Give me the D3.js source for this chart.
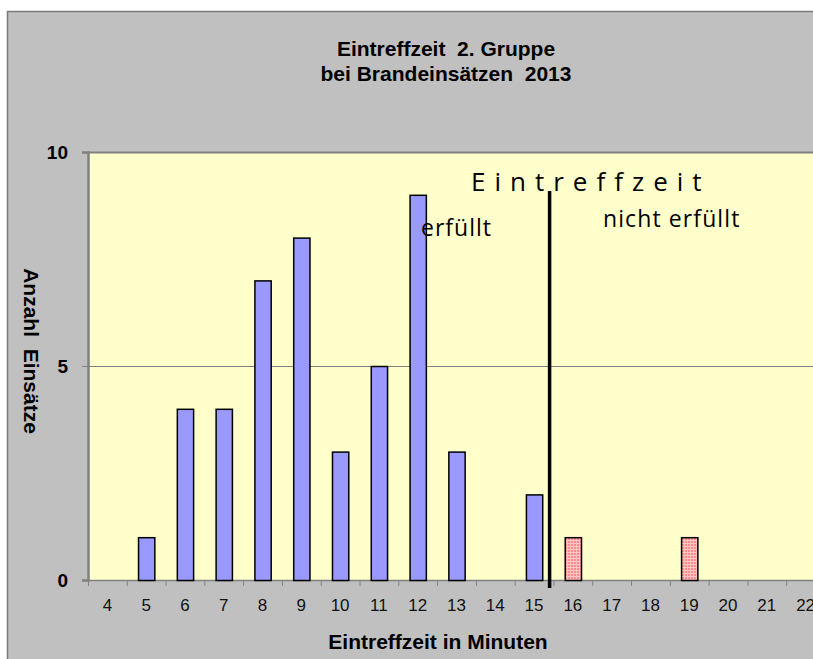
<!DOCTYPE html>
<html>
<head>
<meta charset="utf-8">
<script src="https://cdn.jsdelivr.net/npm/d3@7"></script>
<style>
  body { margin: 0; background: #fff; }
  svg { display: block; }
</style>
</head>
<body>
<script>
// data
var minutes = ["4","5","6","7","8","9","10","11","12","13","14","15","16","17","18","19","20","21","22"];
var counts  = [0, 1, 4, 4, 7, 8, 3, 5, 9, 3, 0, 2, 1, 0, 0, 1, 0, 0, 0];
var missed  = ["16","17","18","19","20","21","22"]; // beyond the limit -> red bars
var yTicks  = [0, 5, 10];
var limitAt = 15.4; // Eintreffzeit limit (between 15 and 16)

var w = 813, h = 659;
var padL = 88, padT = 152, padR = 825, padB = 580;

var svg = d3.select("body").append("svg")
    .attr("width", w)
    .attr("height", h);

// pattern for the red bars
var defs = svg.append("defs");
var pat = defs.append("pattern")
    .attr("id", "redcheck")
    .attr("width", 3).attr("height", 3)
    .attr("patternUnits", "userSpaceOnUse");
pat.append("rect").attr("width", 3).attr("height", 3).attr("fill", "#ff8c8c");
pat.append("rect").attr("width", 3).attr("height", 1).attr("fill", "#ffc8c8");
pat.append("rect").attr("width", 1).attr("height", 3).attr("fill", "#ffc0c0");

// chart background
svg.append("rect")
    .attr("x", 7.5).attr("y", 11.5)
    .attr("width", w + 10).attr("height", h + 10)
    .attr("fill", "#c0c0c0")
    .attr("stroke", "#7a7a7a")
    .attr("stroke-width", 1.5);

// scales
var x = d3.scaleBand()
    .domain(minutes)
    .range([padL, padR])
    .paddingInner(0.58)
    .paddingOuter(0.29);
var xEdge = d3.scaleBand().domain(minutes).range([padL, padR]);
var y = d3.scaleLinear()
    .domain([0, 10])
    .range([padB, padT]);

// plot area
svg.append("rect")
    .attr("x", padL).attr("y", padT)
    .attr("width", padR - padL).attr("height", padB - padT)
    .attr("fill", "#ffffcc");

// gridlines
svg.append("g")
    .selectAll("line")
    .data(yTicks.filter(function(d) { return d > 0; }))
    .enter().append("line")
    .attr("x1", padL).attr("x2", padR)
    .attr("y1", function(d) { return y(d) + 0.5; })
    .attr("y2", function(d) { return y(d) + 0.5; })
    .attr("stroke", "#808080")
    .attr("stroke-width", function(d) { return d === 10 ? 2 : 1.2; });

// y axis
var yAxis = d3.axisLeft(y).tickValues(yTicks).tickSize(6).tickPadding(14);
var gy = svg.append("g")
    .attr("transform", "translate(" + padL + ",0)")
    .call(yAxis);
gy.select(".domain").attr("stroke", "#808080").attr("stroke-width", 2.5);
gy.selectAll(".tick line").attr("stroke", "#808080");
gy.selectAll(".tick text")
    .attr("font-family", "Liberation Sans, Arial, sans-serif")
    .attr("font-size", 19).attr("font-weight", "bold").attr("fill", "#000");

// x axis: ticks between categories
var gx = svg.append("g").attr("transform", "translate(0," + padB + ")");
gx.append("line")
    .attr("x1", padL).attr("x2", padR)
    .attr("y1", 0.5).attr("y2", 0.5)
    .attr("stroke", "#808080").attr("stroke-width", 1.5);
gx.selectAll("line.tk")
    .data(minutes)
    .enter().append("line")
    .classed("tk", true)
    .attr("x1", function(d) { return xEdge(d) + 0.5; })
    .attr("x2", function(d) { return xEdge(d) + 0.5; })
    .attr("y1", 0).attr("y2", 6)
    .attr("stroke", "#808080");
gx.selectAll("text")
    .data(minutes)
    .enter().append("text")
    .attr("x", function(d) { return xEdge(d) + xEdge.bandwidth() / 2; })
    .attr("y", 31)
    .attr("text-anchor", "middle")
    .attr("font-family", "Liberation Sans, Arial, sans-serif")
    .attr("font-size", 17)
    .attr("fill", "#111")
    .text(function(d) { return d; });

// bars
svg.append("g")
    .selectAll("rect")
    .data(minutes.map(function(m, i) { return { key: m, value: counts[i] }; })
        .filter(function(d) { return d.value > 0; }))
    .enter().append("rect")
    .attr("x", function(d) { return x(d.key) + 0.5; })
    .attr("y", function(d) { return y(d.value) + 0.5; })
    .attr("width", x.bandwidth())
    .attr("height", function(d) { return y(0) - y(d.value); })
    .attr("fill", function(d) { return missed.indexOf(d.key) >= 0 ? "url(#redcheck)" : "#9999ff"; })
    .attr("stroke", "#000")
    .attr("stroke-width", 1.5);

// limit line
var lx = xEdge("15") + xEdge.step() * (limitAt - 14.5);
svg.append("line")
    .attr("x1", lx).attr("x2", lx)
    .attr("y1", 191).attr("y2", 588)
    .attr("stroke", "#000")
    .attr("stroke-width", 3.5);

// annotations
var note = "Open Sans, Noto Sans, sans-serif";
svg.append("text")
    .attr("x", 471).attr("y", 191)
    .attr("font-family", note)
    .attr("font-size", 26)
    .attr("letter-spacing", 9)
    .attr("fill", "#000")
    .text("Eintreffzeit");
svg.append("text")
    .attr("x", 421).attr("y", 236)
    .attr("font-family", note)
    .attr("font-size", 23)
    .attr("letter-spacing", 1)
    .attr("fill", "#000")
    .text("erfüllt");
svg.append("text")
    .attr("x", 603).attr("y", 227)
    .attr("font-family", note)
    .attr("font-size", 23)
    .attr("letter-spacing", 1.1)
    .attr("fill", "#000")
    .text("nicht erfüllt");

// titles
var bold = "Liberation Sans, Arial, sans-serif";
svg.append("text")
    .attr("x", 446).attr("y", 56)
    .attr("text-anchor", "middle")
    .attr("font-family", bold).attr("font-weight", "bold").attr("font-size", 21)
    .attr("xml:space", "preserve")
    .text("Eintreffzeit  2. Gruppe");
svg.append("text")
    .attr("x", 446).attr("y", 81)
    .attr("text-anchor", "middle")
    .attr("font-family", bold).attr("font-weight", "bold").attr("font-size", 21)
    .attr("xml:space", "preserve")
    .text("bei Brandeinsätzen  2013");
svg.append("text")
    .attr("x", 438).attr("y", 649)
    .attr("text-anchor", "middle")
    .attr("font-family", bold).attr("font-weight", "bold").attr("font-size", 21)
    .text("Eintreffzeit in Minuten");
svg.append("text")
    .attr("transform", "translate(24,351) rotate(90)")
    .attr("text-anchor", "middle")
    .attr("font-family", bold).attr("font-weight", "bold").attr("font-size", 21)
    .attr("xml:space", "preserve")
    .text("Anzahl  Einsätze");
</script>
</body>
</html>
